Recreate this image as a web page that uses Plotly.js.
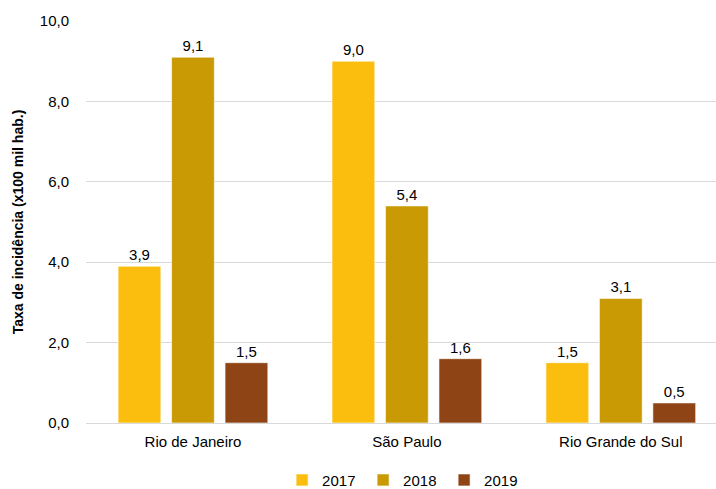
<!DOCTYPE html>
<html><head><meta charset="utf-8">
<script src="https://cdn.plot.ly/plotly-3.0.1.min.js"></script>
<style>html,body{margin:0;padding:0;background:#fff}#chart{width:716px;height:489px}</style>
</head><body><div id="chart"></div>
<script>
const categories = ["Rio de Janeiro", "São Paulo", "Rio Grande do Sul"];
const years = ["2017", "2018", "2019"];
const values2017 = [3.9, 9.0, 1.5];
const values2018 = [9.1, 5.4, 3.1];
const values2019 = [1.5, 1.6, 0.5];
const yTickVals = [0, 2, 4, 6, 8, 10];
const colors = ["#FCBE0E", "#CA9A05", "#8E4415"];
const series = [values2017, values2018, values2019];

const traces = series.map((vals, i) => ({
  type: "bar",
  name: years[i],
  x: categories,
  y: vals,
  marker: {color: colors[i], line: {color: "rgba(255,255,255,0.6)", width: 1}},
  texttemplate: "%{y:.1f}",
  textposition: "outside",
  cliponaxis: false,
  textfont: {family: "Liberation Sans, Arial, sans-serif", size: 15, color: "#000"},
  hoverinfo: "none"
}));

const layout = {
  width: 716, height: 489,
  margin: {l: 86, r: 0, t: 21, b: 66},
  separators: ",.",
  font: {family: "Liberation Sans, Arial, sans-serif", size: 15, color: "#000"},
  paper_bgcolor: "#fff", plot_bgcolor: "#fff",
  barmode: "group",
  bargap: 0.25,
  bargroupgap: 0.2,
  showlegend: true,
  legend: {orientation: "h", x: 0.394, xref: "container", xanchor: "left",
           y: 0.018, yref: "container", yanchor: "middle",
           font: {size: 15}, entrywidth: 36, entrywidthmode: "pixels", traceorder: "normal"},
  xaxis: {type: "category", range: [-0.5, 2.445], showgrid: false, zeroline: false,
          showline: false, ticks: "outside", ticklen: 5, tickcolor: "rgba(0,0,0,0)",
          tickfont: {size: 15}},
  yaxis: {range: [0, 10], tickvals: yTickVals, tickformat: ".1f",
          showgrid: true, gridcolor: "#D9D9D9", gridwidth: 1,
          zeroline: true, zerolinecolor: "#D9D9D9", zerolinewidth: 1,
          ticks: "outside", ticklen: 13, tickcolor: "rgba(0,0,0,0)",
          tickfont: {size: 15},
          title: {text: "Taxa de incidência (x100 mil hab.)", font: {size: 14, weight: "bold"}, standoff: 12}}
};
Plotly.newPlot("chart", traces, layout, {staticPlot: true, displayModeBar: false});
</script></body></html>
